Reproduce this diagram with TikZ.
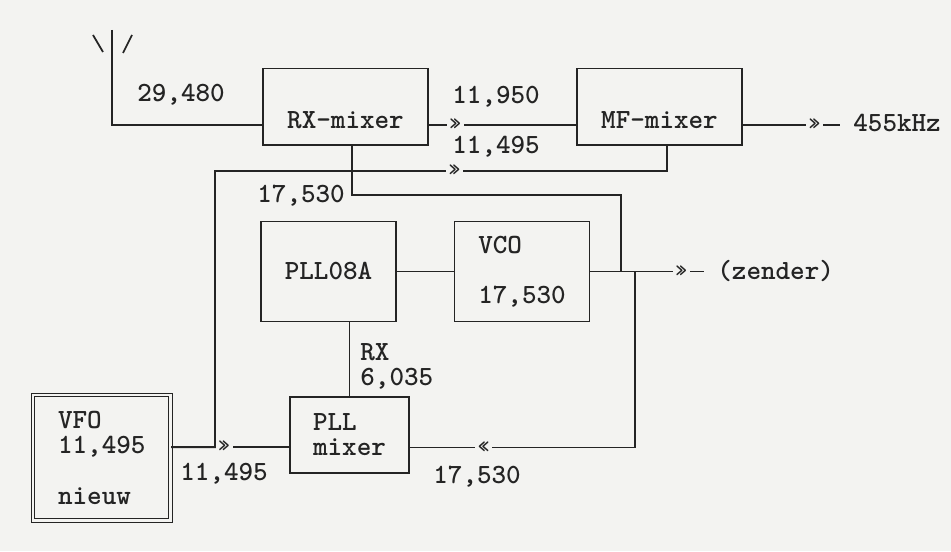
\documentclass[tikz,border=0pt]{standalone}
\usepackage{fontspec}
\usepackage{tikz}
\usetikzlibrary{positioning, calc}
\definecolor{Ink}{HTML}{242424}
\definecolor{Paper}{HTML}{F3F3F1}

\begin{document}
\begin{tikzpicture}[
  font=\ttfamily\bfseries\fontsize{15.8pt}{14.2pt}\selectfont,
  blk/.style={draw=Ink, line width=1pt, align=left, inner sep=0pt, minimum width=2.7cm, minimum height=2cm, text=Ink},
  mixbox/.style={blk, minimum width=3.3cm, minimum height=0pt, text height=1.2cm, text depth=0.33cm},
  vfobox/.style={blk, line width=0.6pt, double=Paper, double distance=1.6pt, minimum width=2.75cm, minimum height=2.51cm},
  lbl/.style={inner sep=0pt, text=Ink},
  outlbl/.style={lbl, inner xsep=0.26cm},
  guil/.style={fill=Paper, inner xsep=1.6pt, inner ysep=0pt, text=Ink, font=\ttfamily\bfseries\fontsize{12.5pt}{12.5pt}\selectfont},
  wire/.style={draw=Ink, line width=1pt}
]
\useasboundingbox (0,0) rectangle (19.02,11.02);
\fill[Paper] (0,0) rectangle (19.02,11.02);

% receiver chain
\node[mixbox, anchor=base] (rx) at (6.91,8.45) {RX-mixer};
\node[mixbox, anchor=base] (mf) at (13.19,8.45) {MF-mixer};
\node[outlbl, anchor=west] (ifout) at (16.80,8.56) {455kHz};

% loop
\node[blk, align=center] (pll) at (6.57,5.59) {PLL08A};
\node[blk] (vco) at (10.44,5.59) {VCO\\[0.5cm]17,530};
\node[outlbl, anchor=west] (zender) at (14.08,5.59) {(zender)};
\node[blk, minimum width=2.38cm, minimum height=1.52cm] (pllm) at (6.99,2.32) {PLL\\mixer};
\node[vfobox] (vfo) at (2.035,1.865) {VFO\\11,495\\[0.52cm]nieuw};

\coordinate (ant) at (2.24,10.42);
\coordinate (k1) at (4.30,7.60);
\coordinate (k2) at (12.42,7.12);
\coordinate (k3) at (12.70,5.59);

% frequencies
\node[lbl, anchor=base west] (f1) at (2.74,8.98) {29,480};
\node[lbl, anchor=base west] (f2) at (9.04,8.94) {11,950};
\node[lbl, anchor=base west] (f3) at (9.04,7.94) {11,495};
\node[lbl, anchor=base west] (f4) at (5.14,6.96) {17,530};
\node[lbl, anchor=north west, align=left] (f5) at (7.20,4.16) {RX\\6,035};
\node[lbl, anchor=base west] (f6) at (3.60,1.42) {11,495};
\node[lbl, anchor=base west] (f7) at (8.66,1.36) {17,530};

% antenna
\draw[wire] ([shift={(-0.38,-0.10)}]ant) -- ++(0.20,-0.34);
\draw[wire] ([shift={(0.40,-0.10)}]ant) -- ++(-0.18,-0.36);
\draw[wire] (ant) |- (rx.mid west);

\draw[wire] (rx.mid east) -- node[guil, pos=0.18] {»} (mf.mid west);
\draw[wire] (mf.mid east) -- node[guil, pos=0.74] {»} (mf.mid east -| ifout.west);
\draw[wire] ([yshift=0.21cm]vfo.east) -| (k1) -| node[guil, pos=0.265] {»} ([xshift=0.15cm]mf.south);
\draw[wire] ([xshift=0.13cm]rx.south) |- (k2) -- (k2 |- vco.east);
\draw[wire] (pll.east) -- (vco.west);
\draw[wire] (vco.east) -- node[guil, pos=0.80] {»} (zender.west);
\draw[wire] (k3) |- node[guil, pos=0.836] {«} ([yshift=-0.25cm]pllm.east);
\draw[wire] (pllm.north) -- (pllm.north |- pll.south);
\draw[wire] ([yshift=0.21cm]vfo.east) -- node[guil, pos=0.45] {»} ([yshift=-0.24cm]pllm.west);
\end{tikzpicture}
\end{document}
